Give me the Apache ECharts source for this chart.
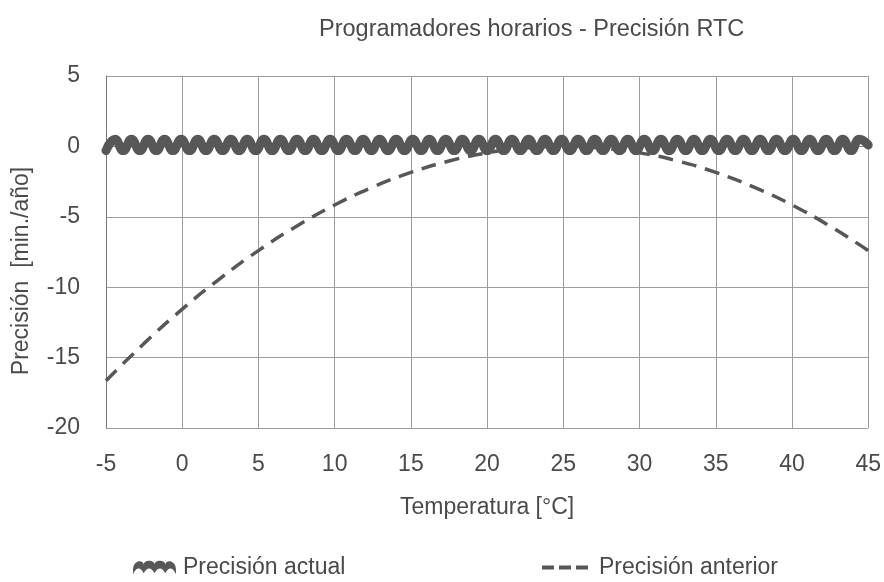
<!DOCTYPE html>
<html>
<head>
<meta charset="utf-8">
<script src="https://cdn.jsdelivr.net/npm/echarts@6/dist/echarts.min.js"></script>
<style>
html,body{margin:0;padding:0;background:#fff;}
#chart{width:884px;height:582px;}
</style>
</head>
<body>
<div id="chart"></div>
<script>
var titleText = 'Programadores horarios - Precisión RTC';
var xName = 'Temperatura [°C]';
var yName = 'Precisión  [min./año]';
var seriesNames = ['Precisión actual', 'Precisión anterior'];

// Precisión actual (wavy line around 0)
var tempActual = [-5, -4.41, -3.87, -3.33, -2.78, -2.24, -1.70, -1.16, -0.61, -0.07,
  0.48, 1.02, 1.56, 2.10, 2.65, 3.19, 3.73, 4.27, 4.82, 5.36, 5.90, 6.44, 6.99, 7.53,
  8.07, 8.61, 9.16, 9.70, 10.24, 10.78, 11.33, 11.87, 12.41, 12.95, 13.50, 14.04,
  14.58, 15.12, 15.67, 16.21, 16.75, 17.29, 17.84, 18.38, 18.92, 19.46, 20.01, 20.55,
  21.09, 21.63, 22.18, 22.72, 23.26, 23.80, 24.35, 24.89, 25.43, 25.97, 26.52, 27.06,
  27.60, 28.14, 28.69, 29.23, 29.77, 30.31, 30.86, 31.40, 31.94, 32.48, 33.03, 33.57,
  34.11, 34.65, 35.20, 35.74, 36.28, 36.82, 37.37, 37.91, 38.45, 38.99, 39.54, 40.08,
  40.62, 41.16, 41.71, 42.25, 42.79, 43.33, 43.88, 44.42, 45];
var precActual = [-0.3, 0.5, -0.3, 0.5, -0.3, 0.5, -0.3, 0.5, -0.3, 0.5,
  -0.3, 0.5, -0.3, 0.5, -0.3, 0.5, -0.3, 0.5, -0.3, 0.5, -0.3, 0.5, -0.3, 0.5,
  -0.3, 0.5, -0.3, 0.5, -0.3, 0.5, -0.3, 0.5, -0.3, 0.5, -0.3, 0.5,
  -0.3, 0.5, -0.3, 0.5, -0.3, 0.5, -0.3, 0.5, -0.3, 0.5, -0.3, 0.5,
  -0.3, 0.5, -0.3, 0.5, -0.3, 0.5, -0.3, 0.5, -0.3, 0.5, -0.3, 0.5,
  -0.3, 0.5, -0.3, 0.5, -0.3, 0.5, -0.3, 0.5, -0.3, 0.5, -0.3, 0.5,
  -0.3, 0.5, -0.3, 0.5, -0.3, 0.5, -0.3, 0.5, -0.3, 0.5, -0.3, 0.5,
  -0.3, 0.5, -0.3, 0.5, -0.3, 0.5, -0.3, 0.5, 0.1];

// Precisión anterior (dashed curve)
var tempAnterior = [-5, -2.5, 0, 2.5, 5, 7.5, 10, 12.5, 15, 17.5, 20, 22.5, 25, 27.5, 30, 32.5, 35, 37.5, 40, 42.5, 45];
var precAnterior = [-16.65, -13.99, -11.56, -9.37, -7.40, -5.67, -4.16, -2.89, -1.85, -1.04, -0.46, -0.12, 0, -0.12, -0.46, -1.04, -1.85, -2.89, -4.16, -5.67, -7.40];

var xTicks = {min: -5, max: 45, interval: 5};
var yTicks = {min: -20, max: 5, interval: 5};

function zip(a, b) { var r = []; for (var i = 0; i < a.length; i++) r.push([a[i], b[i]]); return r; }

var FONT = 'Liberation Sans, Arial, Helvetica, sans-serif';
var TXT = '#4a4a4a';
var LINE = '#575757';
var waveIcon = 'path://M0,10 C0,0 10,0 10,5 C10,0 20,0 20,5 C20,0 30,0 30,5 C30,0 40,0 40,10 L40,14 C37,7 33,7 30,13 C27,7 23,7 20,13 C17,7 13,7 10,13 C7,7 3,7 0,14 Z';
var dashIcon = 'path://M0,0 L12,0 L12,4 L0,4 Z M17,0 L29,0 L29,4 L17,4 Z M34,0 L46,0 L46,4 L34,4 Z';

var chart = echarts.init(document.getElementById('chart'), null, {renderer: 'canvas'});
chart.setOption({
  animation: false,
  backgroundColor: '#fff',
  textStyle: {fontFamily: FONT},
  title: {
    text: titleText, left: 319, top: 18, padding: 0,
    textStyle: {fontSize: 23.5, fontWeight: 'normal', color: TXT, fontFamily: FONT}
  },
  grid: {left: 106, right: 13, top: 76, bottom: 154, containLabel: false},
  xAxis: {
    type: 'value', min: xTicks.min, max: xTicks.max, interval: xTicks.interval,
    name: xName, nameLocation: 'middle', nameGap: 68,
    nameTextStyle: {fontSize: 23, color: TXT, fontFamily: FONT},
    axisLine: {show: true, lineStyle: {color: '#888', width: 1}},
    axisTick: {show: false},
    axisLabel: {fontSize: 23, color: TXT, margin: 25, fontFamily: FONT},
    splitLine: {show: true, lineStyle: {color: '#9d9d9d', width: 1}}
  },
  yAxis: {
    type: 'value', min: yTicks.min, max: yTicks.max, interval: yTicks.interval,
    axisLine: {show: true, onZero: false, lineStyle: {color: '#777', width: 1}},
    axisTick: {show: false},
    axisLabel: {fontSize: 23, color: TXT, margin: 26, fontFamily: FONT},
    splitLine: {show: true, lineStyle: {color: '#9d9d9d', width: 1}}
  },
  graphic: [{
    type: 'text', x: 22, y: 271, rotation: Math.PI / 2,
    style: {text: yName, fontSize: 23, fill: TXT, fontFamily: FONT, align: 'center', verticalAlign: 'middle'}
  }],
  legend: [{
    data: [{name: seriesNames[0], icon: waveIcon}],
    left: 133, top: 556, itemWidth: 43, itemHeight: 17, padding: 0,
    textStyle: {fontSize: 23, color: TXT, fontFamily: FONT, padding: [0, 0, 0, 2]}
  }, {
    data: [{name: seriesNames[1], icon: dashIcon}],
    left: 542, top: 556, itemWidth: 46, itemHeight: 4, padding: 0,
    textStyle: {fontSize: 23, color: TXT, fontFamily: FONT, padding: [0, 0, 0, 6]}
  }],
  series: [{
    name: seriesNames[1], type: 'line', data: zip(tempAnterior, precAnterior),
    smooth: true, showSymbol: false, symbol: 'none', z: 2,
    lineStyle: {color: LINE, width: 3.5, type: [15, 9]},
    itemStyle: {color: LINE}
  }, {
    name: seriesNames[0], type: 'line', data: zip(tempActual, precActual),
    smooth: 0.5, showSymbol: false, symbol: 'none', z: 3,
    lineStyle: {color: LINE, width: 9, cap: 'round', join: 'round'},
    itemStyle: {color: LINE}
  }]
});
</script>
</body>
</html>
